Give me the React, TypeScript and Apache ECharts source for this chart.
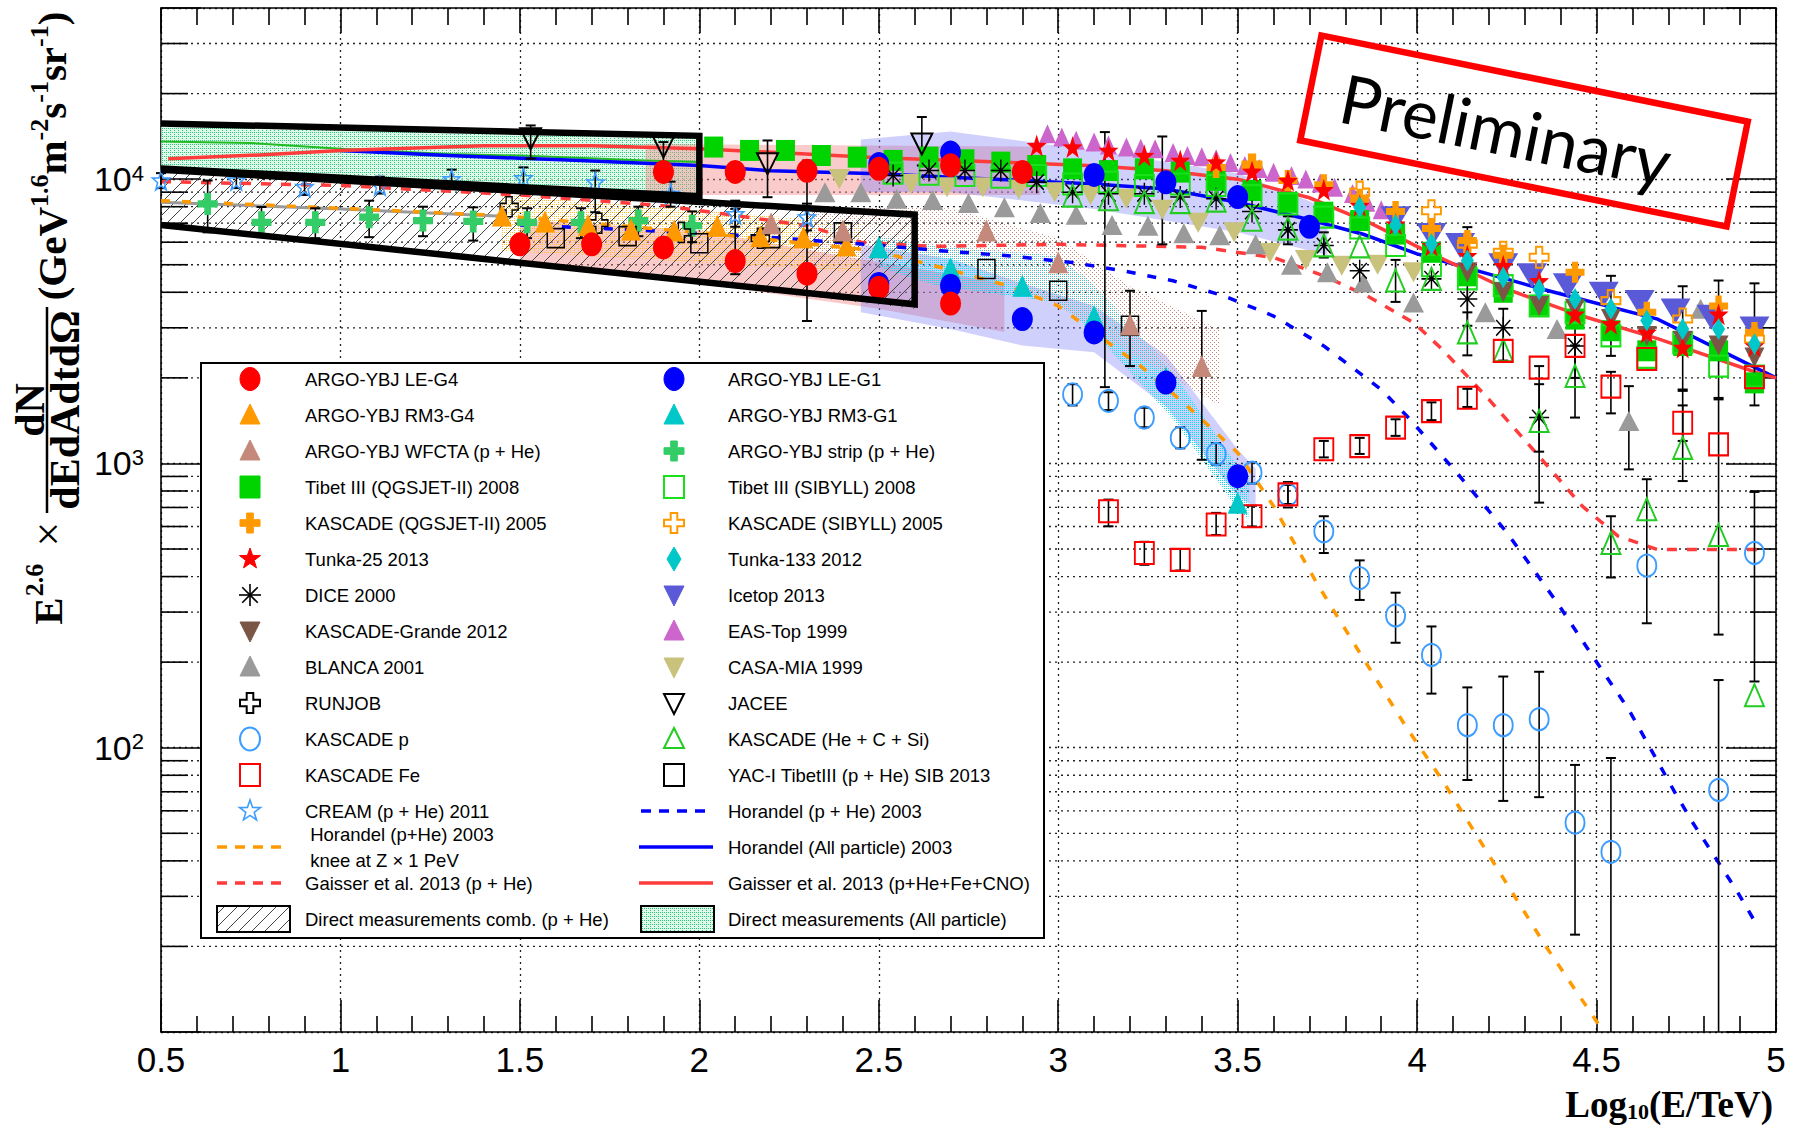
import React, { useEffect, useRef } from "react";
import * as echarts from "echarts";

/* ---------------- axes ---------------- */
const xMin = 0.5;
const xMax = 5;
const xStep = 0.5;
const yMin = 10;
const yMax = 40000;
const yMinorTicks = [20, 30, 40, 50, 60, 70, 80, 90, 200, 300, 400, 500, 600, 700, 800, 900,
  2000, 3000, 4000, 5000, 6000, 7000, 8000, 9000, 20000, 30000];
const yLabelledExponents = [2, 3, 4];

/* ---------------- data: markers [log10(E/TeV), flux] ---------------- */
const leG4 = [[1.5, 5900], [1.7, 5900], [1.9, 5750], [2.1, 5150], [2.3, 4650], [2.5, 4150], [2.7, 3650],
  [1.9, 10600], [2.1, 10600], [2.3, 10700], [2.5, 10870], [2.7, 11200], [2.9, 10600]];
const leG4Err = [[2.1, 4630, 7860], [2.3, 3170, 11630]];
const leG4BandLow = [[1.5, 4950, 7200], [2.0, 4300, 6600], [2.5, 3500, 5100], [2.85, 2900, 4300]];
const leG4BandHigh = [[1.85, 8800, 13300], [2.95, 8800, 13000]];

const leG1 = [[2.5, 11300], [2.7, 12400], [3.1, 10350], [3.3, 9750], [3.5, 8650], [3.7, 6800],
  [2.5, 4280], [2.7, 4220], [2.9, 3220], [3.1, 2890], [3.3, 1925], [3.5, 902]];
const leG1Err = [[3.13, 1855, 14640], [3.29, 5900, 14130]];
const leG1BandHigh = [[2.45, 9000, 13800], [2.7, 9000, 14700], [3.1, 7850, 12600], [3.5, 6500, 10500], [3.75, 5400, 7900]];
const leG1BandLow = [[2.45, 3400, 5900], [2.7, 2970, 5240], [2.9, 2600, 4300], [3.1, 2460, 3580], [3.3, 1590, 2400], [3.5, 765, 1120], [3.55, 700, 960]];

const rm3G4 = [[1.45, 7450], [1.57, 7100], [1.69, 6900], [1.81, 6650], [1.93, 6600], [2.05, 6850], [2.17, 6300], [2.29, 6250], [2.41, 5850]];
const rm3G4Band = [[1.45, 5600, 8800], [2.45, 4700, 7000]];
const rm3G1 = [[2.5, 5760], [2.7, 4860], [2.9, 4220], [3.1, 3300], [3.3, 2000], [3.5, 728]];
const rm3G1Band = [[2.5, 4900, 6300], [2.66, 4220, 5830], [3.0, 3680, 5380], [3.1, 2890, 4220], [3.32, 1430, 2090], [3.5, 690, 975], [3.53, 640, 900]];

const wfcta = [[2.2, 7000], [2.4, 6600], [2.8, 6600], [3.0, 5100], [3.2, 3080], [3.4, 2200]];
const wfctaErr = [[3.2, 2200, 4050], [3.4, 1030, 3440]];
const wfctaBand = [[2.3, 5000, 8000], [2.7, 5300, 7900], [3.0, 3600, 6200], [3.2, 2450, 4200], [3.45, 1600, 2950]];

const strip = [[0.63, 8180], [0.78, 7050], [0.93, 7050], [1.08, 7350], [1.23, 7150], [1.37, 7100], [1.52, 7050], [1.67, 7050], [1.83, 7150], [1.98, 6860]];
const stripErr = [[0.63, 6500, 9890], [0.78, 6250, 7980], [0.93, 6200, 7900], [1.08, 6250, 8400], [1.23, 6300, 8000],
  [1.37, 6080, 7960], [1.52, 6200, 7900], [1.67, 6200, 7900], [1.83, 6300, 8000], [1.98, 6000, 7700]];

const tibetQ = [[2.04, 12970], [2.14, 12620], [2.24, 12620], [2.34, 12110], [2.44, 11950], [2.54, 11640], [2.64, 11950], [2.74, 11700],
  [2.84, 11480], [2.94, 11170], [3.04, 10870], [3.14, 10720], [3.24, 10870], [3.34, 10590], [3.44, 9900], [3.54, 9120], [3.64, 8290],
  [3.74, 7650], [3.84, 7150], [3.94, 6410], [4.04, 5530], [4.14, 4570], [4.24, 4000], [4.34, 3600], [4.44, 3220], [4.54, 2930],
  [4.64, 2490], [4.74, 2600], [4.84, 2490], [4.94, 1920]];
const tibetS = [[2.54, 10500], [2.64, 10400], [2.74, 10300], [2.84, 10160], [2.94, 10300], [3.04, 9620], [3.14, 9760], [3.24, 9500],
  [3.34, 9620], [3.44, 9500], [3.54, 8750], [3.64, 8180], [3.74, 7350], [3.84, 6730], [3.94, 5840], [4.04, 4960], [4.14, 4460],
  [4.24, 4220], [4.34, 3580], [4.44, 3400], [4.54, 2810], [4.64, 2360], [4.74, 2660], [4.84, 2200], [4.94, 2030]];

const kascadeQ = [[3.44, 11000], [3.54, 11200], [3.64, 9900], [3.74, 9560], [3.84, 8500], [3.94, 7700], [4.04, 6700], [4.14, 6080],
  [4.24, 5400], [4.44, 4700], [4.64, 3400], [4.84, 3580], [4.94, 2890]];
const kascadeS = [[3.54, 11200], [3.84, 9000], [4.04, 7740], [4.14, 5910], [4.24, 5530], [4.34, 5310], [4.54, 3740], [4.74, 3220], [4.94, 2740]];

const tunka25 = [[2.94, 13130], [3.04, 12970], [3.14, 12620], [3.24, 12110], [3.34, 11640], [3.44, 11480], [3.54, 10650], [3.64, 9890],
  [3.74, 9180], [3.84, 8070], [3.94, 6950], [4.04, 5840], [4.14, 5380], [4.24, 4960], [4.34, 4390], [4.44, 3350], [4.54, 3100],
  [4.64, 2890], [4.74, 2560], [4.84, 3350], [4.94, 2590]];
const tunka133 = [[3.84, 7960], [3.94, 6900], [4.04, 5910], [4.14, 5170], [4.24, 4520], [4.34, 4100], [4.44, 3790], [4.54, 3500],
  [4.64, 3180], [4.74, 2970], [4.84, 2970], [4.94, 2630]];

const dice = [[2.54, 10300], [2.64, 10720], [2.74, 10720], [2.84, 10720], [2.94, 9760], [3.04, 9000], [3.14, 8880], [3.24, 8880],
  [3.34, 8650], [3.44, 8530], [3.54, 7700], [3.64, 6630], [3.74, 5840], [3.84, 4760], [4.04, 4460], [4.14, 3790], [4.24, 3000],
  [4.34, 1450], [4.44, 2590]];
const diceErr = [[3.64, 5900, 7400], [3.74, 5300, 6500], [4.14, 3050, 6780], [4.24, 2300, 3500], [4.34, 1100, 1900], [4.44, 2000, 3300]];

const grande = [[4.14, 4700], [4.24, 4000], [4.34, 3580], [4.44, 3500], [4.54, 3220], [4.64, 2810], [4.74, 2700], [4.84, 2600], [4.94, 2360]];
const grandeErr = [[4.54, 2390, 4570], [4.74, 1800, 4200], [4.84, 1700, 4400], [4.94, 1600, 4300]];

const blanca = [[2.35, 9000], [2.45, 9000], [2.55, 8530], [2.65, 8450], [2.75, 8250], [2.85, 7960], [2.95, 7600], [3.05, 7500],
  [3.15, 6900], [3.25, 6860], [3.35, 6450], [3.45, 6350], [3.55, 5900], [3.65, 5000], [3.75, 4700], [3.85, 4330], [3.99, 3680],
  [4.19, 3400], [4.39, 2970], [4.59, 1410], [4.79, 3500]];
const blancaErr = [[4.59, 953, 1870]];

const icetop = [[3.94, 7250], [4.04, 6330], [4.12, 5840], [4.24, 4960], [4.32, 4570], [4.42, 4220], [4.52, 3940], [4.62, 3680],
  [4.72, 3440], [4.82, 3270], [4.94, 2970]];
const easTop = [[2.97, 14450], [3.01, 14070], [3.05, 13700], [3.10, 13500], [3.14, 13200], [3.19, 12970], [3.23, 12850], [3.27, 12790],
  [3.32, 12400], [3.36, 12110], [3.40, 12000], [3.44, 11800], [3.48, 11450], [3.52, 11170], [3.56, 10900], [3.60, 10580],
  [3.65, 10300], [3.69, 10020], [3.73, 9700], [3.77, 9370], [3.82, 8900], [3.86, 8290], [3.90, 7800], [3.94, 7350]];
const casaMia = [[2.39, 10020], [2.59, 9620], [2.69, 9370], [2.79, 9370], [2.89, 9200], [2.99, 9000], [3.09, 8800], [3.19, 8530],
  [3.29, 7800], [3.39, 7030], [3.49, 6500], [3.59, 5500], [3.69, 5200], [3.79, 4960], [3.89, 5000], [3.99, 4700]];

const jacee = [[1.53, 13870], [1.9, 12970], [2.19, 11320], [2.62, 13300]];
const jaceeErr = [[1.53, 11800, 15450], [1.9, 9900, 13500], [2.19, 8640, 13680], [2.62, 11170, 16540]];
const runjob = [[1.47, 8000], [1.72, 7000], [1.95, 6500], [2.17, 6200]];
const yac = [[1.6, 6200], [1.8, 6300], [2.0, 5950], [2.2, 6200], [2.4, 6500], [2.8, 4830], [3.0, 4050], [3.2, 3050]];

const kascadeP = [[3.04, 1750], [3.14, 1660], [3.24, 1450], [3.34, 1230], [3.44, 1080], [3.54, 927], [3.64, 776], [3.74, 577],
  [3.84, 395], [3.94, 292], [4.04, 212], [4.14, 120], [4.24, 120], [4.34, 126], [4.44, 54.5], [4.54, 43], [4.64, 437], [4.84, 71], [4.94, 484]];
const kascadePErr = [[3.04, 1600, 1900], [3.14, 1540, 1780], [3.24, 1340, 1570], [3.34, 1130, 1340], [3.44, 990, 1180], [3.54, 850, 1010],
  [3.64, 700, 860], [3.74, 484, 652], [3.84, 331, 456], [3.94, 234, 351], [4.04, 155, 267], [4.14, 77, 163], [4.24, 65, 178],
  [4.34, 67, 185], [4.44, 22, 87], [4.54, 5, 92], [4.64, 274, 880], [4.84, 5, 173], [4.94, 171, 794]];
const kascadeFe = [[3.14, 679], [3.24, 484], [3.34, 458], [3.44, 610], [3.54, 652], [3.64, 778], [3.74, 1122], [3.84, 1151], [3.94, 1337],
  [4.04, 1528], [4.14, 1703], [4.24, 2490], [4.34, 2173], [4.44, 2590], [4.54, 1862], [4.64, 2330], [4.74, 1390], [4.84, 1167], [4.94, 2010]];
const kascadeFeErr = [[3.14, 601, 746], [3.24, 440, 530], [3.34, 420, 500], [3.44, 560, 670], [3.54, 600, 710], [3.64, 720, 840],
  [3.74, 1050, 1200], [3.84, 1080, 1230], [3.94, 1250, 1430], [4.04, 1420, 1640], [4.14, 1580, 1830], [4.54, 1500, 2100], [4.74, 1200, 1600]];
const heCSi = [[3.04, 8750], [3.14, 8500], [3.24, 8300], [3.34, 8300], [3.44, 8400], [3.54, 7200], [3.64, 6700], [3.74, 5850], [3.84, 5800],
  [3.94, 4400], [4.04, 4460], [4.14, 2890], [4.24, 2500], [4.34, 1410], [4.44, 2030], [4.54, 525], [4.64, 690], [4.74, 1135], [4.84, 560], [4.94, 153]];
const heCSiErr = [[3.94, 3700, 5200], [4.14, 2400, 3400], [4.34, 728, 2200], [4.44, 1450, 2600], [4.54, 397, 652], [4.74, 867, 1820], [4.84, 250, 1680]];

const cream = [[0.5, 9900], [0.71, 9900], [0.9, 9400], [1.11, 9500], [1.31, 10000], [1.51, 10100], [1.71, 9750], [1.92, 8880], [2.1, 7540], [2.3, 7350]];
const creamErr = [[0.5, 9300, 10500], [0.71, 9300, 10500], [0.9, 8800, 10000], [1.11, 8900, 10200], [1.31, 9300, 10800],
  [1.51, 9300, 11000], [1.71, 7650, 10720], [1.92, 8000, 9800], [2.1, 6800, 8400], [2.3, 6600, 8200]];

/* ---------------- data: model curves ---------------- */
const gaisserAll = [[0.52, 11800], [0.8, 12200], [1.0, 12600], [1.4, 13100], [1.7, 13100], [2.0, 12800], [2.5, 11900], [2.7, 11650],
  [3.1, 11150], [3.3, 10700], [3.5, 10000], [3.7, 8600], [3.87, 7000], [4.03, 5550], [4.25, 4100], [4.46, 3300], [4.67, 2750], [4.96, 2060], [5.0, 2000]];
const horandelAll = [[1.0, 12600], [1.3, 12100], [1.65, 11650], [2.0, 11170], [2.2, 10700], [2.5, 10450], [2.7, 10160], [3.1, 9620],
  [3.3, 9240], [3.5, 8290], [3.7, 7200], [3.85, 6400], [4.0, 5460], [4.35, 4100], [4.67, 3220], [5.0, 2000]];
const gaisserPHe = [[0.5, 9800], [1.0, 9500], [1.5, 8800], [1.9, 8070], [2.1, 7450], [2.3, 6860], [2.45, 6000], [2.65, 5800], [3.0, 5900],
  [3.4, 5760], [3.6, 5300], [3.74, 4570], [3.86, 3890], [3.99, 3130], [4.07, 2520], [4.2, 1680], [4.33, 1095], [4.46, 708], [4.56, 555], [4.67, 498], [4.95, 498]];
const horandelPHe = [[1.5, 6900], [1.76, 6680], [2.14, 6320], [2.51, 5840], [2.67, 5600], [2.86, 5380], [3.04, 5090], [3.18, 4760],
  [3.32, 4390], [3.46, 3890], [3.6, 3300], [3.74, 2590], [3.9, 1820], [3.98, 1430], [4.11, 930], [4.25, 572], [4.39, 324], [4.49, 209],
  [4.59, 136], [4.72, 69], [4.77, 54], [4.89, 31.5], [4.95, 23.4]];
const horandelKnee = [[0.5, 8400], [1.0, 7900], [1.44, 7450], [2.0, 6500], [2.49, 5600], [2.67, 4900], [2.86, 4220], [3.0, 3580], [3.1, 2890],
  [3.23, 2200], [3.36, 1590], [3.5, 1090], [3.6, 708], [3.72, 380], [3.84, 216], [3.97, 118], [4.07, 77], [4.21, 40], [4.36, 19.9], [4.52, 10]];
const directAllLine = [[0.5, 13570], [0.75, 13400], [1.0, 12790], [1.3, 12270], [1.5, 12100], [1.85, 11640], [2.0, 11480]];
const directPHeLine = [[0.5, 8300], [1.0, 7850], [1.45, 7400]];
const directAllBand = [[0.5, 11000, 15300], [2.0, 8800, 14200]];
const directPHeBand = [[0.5, 7000, 10600], [2.6, 3500, 7500]];
const upperBox = [[0.5, 15700], [2.0, 14200], [2.0, 8700], [0.5, 10900]];
const lowerBox = [[0.5, 10800], [2.6, 7500], [2.6, 3630], [0.5, 6900]];

/* ---------------- styles ---------------- */
const COL = {
  red: "#ff0000", orange: "#ff9900", rosy: "#c4897b", green: "#00d400", greenOpen: "#19e019", black: "#000000",
  brown: "#7b5646", gray: "#9a9a9a", lightBlue: "#3c9cff", blue: "#0000ff", cyan: "#00c8c8", stripGreen: "#33cc66",
  slate: "#5a5ad8", orchid: "#cc66cc", khaki: "#c9c27c", heGreen: "#22cc22", lineRed: "#ff3b3b",
};
const SYM = {
  plus: "path://M-3,-9H3V-3H9V3H3V9H-3V3H-9V-3H-3Z",
  star: "path://M0,-10L2.35,-3.24L9.51,-3.09L3.8,1.24L5.88,8.09L0,4L-5.88,8.09L-3.8,1.24L-9.51,-3.09L-2.35,-3.24Z",
  aster: "path://M0,-10L0,10M-10,0L10,0M-7.07,-7.07L7.07,7.07M-7.07,7.07L7.07,-7.07",
};
const SANS = '"Liberation Sans", Arial, Helvetica, sans-serif';
const SERIF = '"Liberation Serif", "Times New Roman", serif';

const legendLeft = [
  { label: "ARGO-YBJ LE-G4", kind: "circle", color: COL.red },
  { label: "ARGO-YBJ RM3-G4", kind: "tri", color: COL.orange },
  { label: "ARGO-YBJ WFCTA (p + He)", kind: "tri", color: COL.rosy },
  { label: "Tibet III (QGSJET-II) 2008", kind: "rect", color: COL.green },
  { label: "KASCADE (QGSJET-II) 2005", kind: "plus", color: COL.orange },
  { label: "Tunka-25 2013", kind: "star", color: COL.red },
  { label: "DICE 2000", kind: "aster", color: COL.black },
  { label: "KASCADE-Grande 2012", kind: "dtri", color: COL.brown },
  { label: "BLANCA 2001", kind: "tri", color: COL.gray },
  { label: "RUNJOB", kind: "oplus", color: COL.black },
  { label: "KASCADE p", kind: "ocircle", color: COL.lightBlue },
  { label: "KASCADE Fe", kind: "orect", color: COL.red },
  { label: "CREAM (p + He) 2011", kind: "ostar", color: COL.lightBlue },
  { label: " Horandel (p+He) 2003\n knee at Z \u00d7 1 PeV", kind: "dash", color: COL.orange },
  { label: "Gaisser et al. 2013 (p + He)", kind: "dash", color: COL.lineRed },
  { label: "Direct measurements comb. (p + He)", kind: "hatch", color: COL.black },
];
const legendRight = [
  { label: "ARGO-YBJ LE-G1", kind: "circle", color: COL.blue },
  { label: "ARGO-YBJ RM3-G1", kind: "tri", color: COL.cyan },
  { label: "ARGO-YBJ strip (p + He)", kind: "plus", color: COL.stripGreen },
  { label: "Tibet III (SIBYLL) 2008", kind: "orect", color: COL.greenOpen },
  { label: "KASCADE (SIBYLL) 2005", kind: "oplus", color: COL.orange },
  { label: "Tunka-133 2012", kind: "diamond", color: COL.cyan },
  { label: "Icetop 2013", kind: "dtri", color: COL.slate },
  { label: "EAS-Top 1999", kind: "tri", color: COL.orchid },
  { label: "CASA-MIA 1999", kind: "dtri", color: COL.khaki },
  { label: "JACEE", kind: "odtri", color: COL.black },
  { label: "KASCADE (He + C + Si)", kind: "otri", color: COL.heGreen },
  { label: "YAC-I TibetIII (p + He) SIB 2013", kind: "orect", color: COL.black },
  { label: "Horandel (p + He) 2003", kind: "dash", color: COL.blue },
  { label: "Horandel (All particle) 2003", kind: "solid", color: COL.blue },
  { label: "Gaisser et al. 2013 (p+He+Fe+CNO)", kind: "solid", color: COL.lineRed },
  { label: "Direct measurements (All particle)", kind: "dots", color: COL.black },
];

/* ---------------- patterns ---------------- */
function dotPattern(color: string, size: number, dots: number[][], bg?: string) {
  const c = document.createElement("canvas");
  c.width = size; c.height = size;
  const g = c.getContext("2d")!;
  if (bg) { g.fillStyle = bg; g.fillRect(0, 0, size, size); }
  g.fillStyle = color;
  dots.forEach(([x, y]) => g.fillRect(x, y, 1, 1));
  return { image: c, repeat: "repeat", imageWidth: size, imageHeight: size };
}
function hatchPattern() {
  const s = 13;
  const c = document.createElement("canvas");
  c.width = s; c.height = s;
  const g = c.getContext("2d")!;
  g.strokeStyle = "#444"; g.lineWidth = 1;
  g.beginPath();
  g.moveTo(0, s); g.lineTo(s, 0);
  g.moveTo(-2, 2); g.lineTo(2, -2);
  g.moveTo(s - 2, s + 2); g.lineTo(s + 2, s - 2);
  g.stroke();
  return { image: c, repeat: "repeat", imageWidth: s, imageHeight: s };
}

/* ---------------- series helpers ---------------- */
function scat(name: string, data: any[], symbol: string, color: string, size: any, o: any = {}) {
  return {
    type: "scatter", name, data, symbol, symbolSize: size, symbolRotate: o.rot || 0, z: o.z || 6, silent: true,
    clip: false,
    itemStyle: o.open
      ? { color: "rgba(0,0,0,0)", borderColor: color, borderWidth: o.bw || 2, opacity: 1 }
      : { color, borderColor: color, borderWidth: 0, opacity: 1 },
  };
}
function errs(name: string, data: any[], color = "#000") {
  return {
    type: "custom", name, data, z: 5, silent: true, encode: { x: 0, y: [1, 2] },
    renderItem: (params: any, api: any) => {
      const x = api.value(0), lo = api.value(1), hi = api.value(2);
      const a = api.coord([x, Math.max(lo, yMin)]);
      const b = api.coord([x, Math.min(hi, yMax)]);
      const ch: any[] = [{ type: "line", shape: { x1: a[0], y1: a[1], x2: b[0], y2: b[1] }, style: { stroke: color, lineWidth: 1.6 } }];
      ch.push({ type: "line", shape: { x1: b[0] - 5, y1: b[1], x2: b[0] + 5, y2: b[1] }, style: { stroke: color, lineWidth: 2 } });
      if (lo >= yMin) ch.push({ type: "line", shape: { x1: a[0] - 5, y1: a[1], x2: a[0] + 5, y2: a[1] }, style: { stroke: color, lineWidth: 2 } });
      return { type: "group", children: ch };
    },
  };
}
function band(name: string, pts: any[], fill: any, z = 2) {
  return {
    type: "custom", name, data: pts, z, silent: true, encode: { x: 0, y: [1, 2] },
    renderItem: (params: any, api: any) => {
      if (params.dataIndex !== 0) return null;
      const up = pts.map((p) => api.coord([p[0], p[2]]));
      const dn = pts.map((p) => api.coord([p[0], p[1]])).reverse();
      return { type: "polygon", shape: { points: up.concat(dn) }, style: { fill, stroke: "none" } };
    },
  };
}
function curve(name: string, data: any[], color: string, width: number, dash: any, z = 4) {
  return {
    type: "line", name, data, z, silent: true, symbol: "none", showSymbol: false, clip: true,
    lineStyle: { color, width, type: dash || "solid", join: "miter", cap: "butt" },
  };
}
function minorGrid() {
  return {
    type: "custom", name: "minorGrid", data: [[xMin, yMin]], z: 1, silent: true,
    renderItem: (params: any, api: any) => {
      const ch: any[] = [];
      yMinorTicks.forEach((v) => {
        const a = api.coord([xMin, v]);
        const b = api.coord([xMax, v]);
        ch.push({ type: "line", shape: { x1: a[0], y1: a[1], x2: b[0], y2: b[1] }, style: { stroke: "#222", lineWidth: 1.3, lineDash: [2, 4] } });
        ch.push({ type: "line", shape: { x1: a[0], y1: a[1], x2: a[0] + 27, y2: a[1] }, style: { stroke: "#000", lineWidth: 1.6 } });
        ch.push({ type: "line", shape: { x1: b[0] - 26, y1: b[1], x2: b[0], y2: b[1] }, style: { stroke: "#000", lineWidth: 1.6 } });
      });
      return { type: "group", children: ch };
    },
  };
}

/* ---------------- legend graphic ---------------- */
const TRI_UP = [[0, -11], [10, 9], [-10, 9]];
const TRI_DN = [[0, 11], [10, -9], [-10, -9]];
const DIAM = [[0, -12], [7, 0], [0, 12], [-7, 0]];
const PLUS = [[-3.3, -10], [3.3, -10], [3.3, -3.3], [10, -3.3], [10, 3.3], [3.3, 3.3], [3.3, 10], [-3.3, 10], [-3.3, 3.3], [-10, 3.3], [-10, -3.3], [-3.3, -3.3]];
const STAR = [[0, -11], [2.6, -3.6], [10.5, -3.4], [4.2, 1.4], [6.5, 8.9], [0, 4.4], [-6.5, 8.9], [-4.2, 1.4], [-10.5, -3.4], [-2.6, -3.6]];

function legendMark(kind: string, color: string, cx: number, cy: number, pats: any): any {
  const F = { fill: color, stroke: color, lineWidth: 1 };
  const O = { fill: "none", stroke: color, lineWidth: 2 };
  const P = (pts: number[][], st: any) => ({ type: "polygon", z: 51, shape: { points: pts.map(([x, y]) => [cx + x, cy + y]) }, style: st });
  switch (kind) {
    case "circle": return { type: "ellipse", z: 51, shape: { cx, cy, rx: 10, ry: 11.5 }, style: F };
    case "ocircle": return { type: "ellipse", z: 51, shape: { cx, cy, rx: 10, ry: 11.5 }, style: O };
    case "tri": return P(TRI_UP, F);
    case "otri": return P(TRI_UP, O);
    case "dtri": return P(TRI_DN, F);
    case "odtri": return P(TRI_DN, O);
    case "rect": return { type: "rect", z: 51, shape: { x: cx - 10, y: cy - 11, width: 20, height: 22 }, style: F };
    case "orect": return { type: "rect", z: 51, shape: { x: cx - 10, y: cy - 11, width: 20, height: 22 }, style: O };
    case "plus": return P(PLUS, F);
    case "oplus": return P(PLUS, O);
    case "star": return P(STAR, F);
    case "ostar": return P(STAR, { fill: "none", stroke: color, lineWidth: 1.6 });
    case "diamond": return P(DIAM, F);
    case "aster": return {
      type: "group", z: 51, children: [[0, -11, 0, 11], [-11, 0, 11, 0], [-7.8, -7.8, 7.8, 7.8], [-7.8, 7.8, 7.8, -7.8]].map((l) => ({
        type: "line", z: 51, shape: { x1: cx + l[0], y1: cy + l[1], x2: cx + l[2], y2: cy + l[3] }, style: { stroke: color, lineWidth: 1.6 },
      })),
    };
    case "dash": return { type: "line", z: 51, shape: { x1: cx - 34, y1: cy, x2: cx + 36, y2: cy }, style: { stroke: color, lineWidth: 3.5, lineDash: [10, 8] } };
    case "solid": return { type: "line", z: 51, shape: { x1: cx - 36, y1: cy, x2: cx + 38, y2: cy }, style: { stroke: color, lineWidth: 3.5 } };
    case "hatch": return { type: "rect", z: 51, shape: { x: cx - 34, y: cy - 13, width: 73, height: 26 }, style: { fill: pats.hatch, stroke: "#000", lineWidth: 2 } };
    case "dots": return { type: "rect", z: 51, shape: { x: cx - 34, y: cy - 13, width: 73, height: 26 }, style: { fill: pats.green, stroke: "#000", lineWidth: 2 } };
  }
  return null;
}

function textEl(text: string, x: number, y: number, font: string) {
  return {
    type: "text", x, y, z: 52,
    style: { text, font, fill: "#000", textAlign: "left", textVerticalAlign: "middle", align: "left", verticalAlign: "middle" },
  };
}

function buildLegend(pats: any) {
  const els: any[] = [];
  const box = { x: 201, y: 363, w: 843, h: 575 };
  els.push({ type: "rect", z: 50, shape: { x: box.x, y: box.y, width: box.w, height: box.h }, style: { fill: "#fff", stroke: "#000", lineWidth: 2 } });
  const row0 = 379, dy = 36;
  const cols = [
    { items: legendLeft, sym: 250, txt: 305, line: 250 },
    { items: legendRight, sym: 674, txt: 728, line: 674 },
  ];
  const font = `18.5px ${SANS}`;
  cols.forEach((col) => {
    col.items.forEach((it, i) => {
      const cy = row0 + i * dy;
      const isLine = it.kind === "dash" || it.kind === "solid" || it.kind === "hatch" || it.kind === "dots";
      els.push(legendMark(it.kind, it.color, isLine ? col.line + 1 : col.sym, cy, pats));
      const lines = it.label.split("\n");
      if (lines.length === 1) {
        els.push(textEl(it.label, col.txt, cy, font));
      } else {
        els.push(textEl(lines[0], col.txt, cy - 13, font));
        els.push(textEl(lines[1], col.txt, cy + 13, font));
      }
    });
  });
  return els;
}

function buildTitles() {
  const els: any[] = [];
  const rot = Math.PI / 2;
  const t = (text: string, x: number, y: number, font: string, r = rot) => ({
    type: "text", x, y, rotation: r, z: 52,
    style: { text, font, fill: "#000", textAlign: "center", textVerticalAlign: "middle", align: "center", verticalAlign: "middle" },
  });
  // y-axis title (rotated)
  els.push(t("E", 48, 611, `bold 41px ${SERIF}`));
  els.push(t("2.6", 34, 580, `bold 26px ${SERIF}`));
  els.push(t("\u00d7", 48, 534, `44px ${SERIF}`));
  els.push(t("dN", 30, 410, `bold 42px ${SERIF}`));
  els.push(t("dEdAdtd\u03a9", 65, 410, `bold 42px ${SERIF}`));
  els.push({ type: "line", z: 52, shape: { x1: 47, y1: 307, x2: 47, y2: 513 }, style: { stroke: "#000", lineWidth: 2.5 } });
  els.push({
    type: "text", x: 49, y: 156, rotation: rot, z: 52,
    style: {
      text: "{m|(GeV}{s|1.6}{m|m}{s|-2}{m|s}{s|-1}{m|sr}{s|-1}{m|)}",
      fill: "#000", textAlign: "center", textVerticalAlign: "middle", align: "center", verticalAlign: "middle",
      rich: {
        m: { fontFamily: SERIF, fontWeight: "bold", fontSize: 41, lineHeight: 46, verticalAlign: "bottom", fill: "#000", color: "#000" },
        s: { fontFamily: SERIF, fontWeight: "bold", fontSize: 26, lineHeight: 26, verticalAlign: "top", fill: "#000", color: "#000" },
      },
    },
  });
  // x-axis title
  els.push({
    type: "text", x: 1773, y: 1086, z: 52,
    style: {
      text: "{a|Log}{s|10}{a|(E/TeV)}",
      fill: "#000", textAlign: "right", textVerticalAlign: "top", align: "right", verticalAlign: "top",
      rich: {
        a: { fontFamily: SERIF, fontWeight: "bold", fontSize: 37, lineHeight: 26, verticalAlign: "top", fill: "#000", color: "#000" },
        s: { fontFamily: SERIF, fontWeight: "bold", fontSize: 22, lineHeight: 18, padding: [14, 0, 0, 0], verticalAlign: "top", fill: "#000", color: "#000" },
      },
    },
  });
  // "Preliminary" stamp
  const ang = -0.1997;
  els.push({ type: "rect", x: 1524, y: 131, rotation: ang, z: 60, shape: { x: -217.5, y: -53.5, width: 435, height: 107 }, style: { fill: "none", stroke: "#ff0000", lineWidth: 6.5 } });
  els.push(t("Preliminary", 1506, 129, `68px Lato, "Open Sans", sans-serif`, ang));
  return els;
}

function buildOption() {
  const pats = {
    hatch: hatchPattern(),
    green: dotPattern("#25cc78", 4, [[0, 0], [2, 2], [2, 0]], "rgba(214,247,228,0.75)"),
    cyan: dotPattern("#00e0f5", 2, [[0, 0]]),
    brown: dotPattern("#c08878", 4, [[0, 0], [2, 2]]),
    orange: dotPattern("#ffbb22", 4, [[0, 0], [2, 2], [2, 0]]),
  };
  const axisLineStyle = { color: "#000", width: 1.6 };
  const series: any[] = [
    minorGrid(),
    band("Direct measurements (All particle)", directAllBand, pats.green, 2),
    band("LE-G4 band low", leG4BandLow, "rgba(245,140,140,0.45)", 2),
    band("LE-G4 band high", leG4BandHigh, "rgba(245,140,140,0.45)", 2),
    band("LE-G1 band high", leG1BandHigh, "rgba(110,110,245,0.32)", 2),
    band("LE-G1 band low", leG1BandLow, "rgba(110,110,245,0.32)", 2),
    band("RM3-G4 band", rm3G4Band, pats.orange, 2),
    band("RM3-G1 band", rm3G1Band, pats.cyan, 2),
    band("WFCTA band", wfctaBand, pats.brown, 2),
    band("Direct measurements comb. (p + He)", directPHeBand, pats.hatch, 3),
    curve("Direct all-particle centre", directAllLine, "#22bb22", 2, null, 3),
    curve("Direct p+He centre", directPHeLine, "#9a9a9a", 3, null, 3),
    curve("Gaisser et al. 2013 (p + He)", gaisserPHe, COL.lineRed, 3.5, [10, 10], 4),
    curve("Horandel (p + He) 2003", horandelPHe, COL.blue, 3.5, [9, 12], 4),
    curve("Horandel (p+He) 2003 knee at Z x 1 PeV", horandelKnee, COL.orange, 3.5, [9, 12], 4),
    curve("Horandel (All particle) 2003", horandelAll, COL.blue, 3.5, null, 4),
    curve("Gaisser et al. 2013 (p+He+Fe+CNO)", gaisserAll, COL.lineRed, 3.5, null, 4),
    errs("err LE-G4", leG4Err), errs("err LE-G1", leG1Err), errs("err WFCTA", wfctaErr), errs("err strip", stripErr),
    errs("err DICE", diceErr), errs("err Grande", grandeErr), errs("err BLANCA", blancaErr), errs("err JACEE", jaceeErr),
    errs("err KASCADE p", kascadePErr), errs("err KASCADE Fe", kascadeFeErr), errs("err HeCSi", heCSiErr), errs("err CREAM", creamErr),
    scat("EAS-Top 1999", easTop, "triangle", COL.orchid, [17, 19]),
    scat("CASA-MIA 1999", casaMia, "triangle", COL.khaki, [22, 20], { rot: 180 }),
    scat("BLANCA 2001", blanca, "triangle", COL.gray, [21, 20]),
    scat("Icetop 2013", icetop, "triangle", COL.slate, [30, 25], { rot: 180 }),
    scat("Tibet III (QGSJET-II) 2008", tibetQ, "rect", COL.green, [19, 21]),
    scat("Tibet III (SIBYLL) 2008", tibetS, "rect", COL.greenOpen, [19, 21], { open: true }),
    scat("KASCADE-Grande 2012", grande, "triangle", COL.brown, [20, 20], { rot: 180 }),
    scat("KASCADE (QGSJET-II) 2005", kascadeQ, SYM.plus, COL.orange, [19, 21]),
    scat("KASCADE (SIBYLL) 2005", kascadeS, SYM.plus, COL.orange, [19, 21], { open: true }),
    scat("Tunka-25 2013", tunka25, SYM.star, COL.red, [20, 22]),
    scat("Tunka-133 2012", tunka133, "diamond", COL.cyan, [13, 22]),
    scat("DICE 2000", dice, SYM.aster, COL.black, [20, 22], { open: true, bw: 1.5 }),
    scat("KASCADE (He + C + Si)", heCSi, "triangle", COL.heGreen, [19, 22], { open: true }),
    scat("KASCADE p", kascadeP, "circle", COL.lightBlue, [19, 22], { open: true }),
    scat("KASCADE Fe", kascadeFe, "rect", COL.red, [19, 22], { open: true }),
    scat("ARGO-YBJ strip (p + He)", strip, SYM.plus, COL.stripGreen, [20, 22]),
    scat("CREAM (p + He) 2011", cream, SYM.star, COL.lightBlue, [17, 19], { open: true, bw: 1.6 }),
    scat("RUNJOB", runjob, SYM.plus, COL.black, [18, 20], { open: true, bw: 1.5 }),
    scat("YAC-I TibetIII (p + He) SIB 2013", yac, "rect", COL.black, [17, 19], { open: true, bw: 1.6 }),
    scat("JACEE", jacee, "triangle", COL.black, [21, 21], { open: true, rot: 180 }),
    scat("ARGO-YBJ RM3-G4", rm3G4, "triangle", COL.orange, [20, 22]),
    scat("ARGO-YBJ WFCTA (p + He)", wfcta, "triangle", COL.rosy, [20, 22]),
    scat("ARGO-YBJ RM3-G1", rm3G1, "triangle", COL.cyan, [20, 22]),
    scat("ARGO-YBJ LE-G1", leG1, "circle", COL.blue, [21, 24], { z: 7 }),
    scat("ARGO-YBJ LE-G4", leG4, "circle", COL.red, [21, 24], { z: 7 }),
    curve("upper box", upperBox, "#000", 6.5, null, 9),
    curve("lower box", lowerBox, "#000", 6.5, null, 9),
  ];

  return {
    animation: false,
    backgroundColor: "#ffffff",
    textStyle: { fontFamily: SANS },
    grid: { left: 161, right: 26, top: 8, bottom: 95, containLabel: false, outerBoundsMode: "none" },
    xAxis: [
      {
        type: "value", position: "bottom", min: xMin, max: xMax, interval: xStep,
        axisLine: { show: true, onZero: false, lineStyle: axisLineStyle },
        axisTick: { show: true, inside: true, length: 32, lineStyle: { color: "#000", width: 1.6 } },
        minorTick: { show: true, splitNumber: 5, length: 16, lineStyle: { color: "#000", width: 1.6 } },
        axisLabel: { show: true, margin: 10, color: "#000", fontSize: 35, fontFamily: SANS, formatter: (v: number) => String(+v.toFixed(2)) },
        splitLine: { show: true, lineStyle: { color: "#222", width: 1.3, type: [2, 4] } },
        minorSplitLine: { show: false },
      },
      {
        type: "value", position: "top", min: xMin, max: xMax, interval: xStep,
        axisLine: { show: true, onZero: false, lineStyle: axisLineStyle },
        axisTick: { show: true, inside: true, length: 25, lineStyle: { color: "#000", width: 1.6 } },
        minorTick: { show: true, splitNumber: 5, length: 17, lineStyle: { color: "#000", width: 1.6 } },
        axisLabel: { show: false },
        splitLine: { show: false },
      },
    ],
    yAxis: [
      {
        type: "log", logBase: 10, position: "left", min: yMin, max: yMax,
        axisLine: { show: true, onZero: false, lineStyle: axisLineStyle },
        axisTick: { show: true, inside: true, length: 40, lineStyle: { color: "#000", width: 1.6 } },
        axisLabel: {
          show: true, margin: 17, color: "#000",
          formatter: (v: number) => {
            const e = Math.log10(v);
            const r = Math.round(e);
            if (Math.abs(e - r) > 1e-6 || yLabelledExponents.indexOf(r) < 0) return "";
            return `{b|10}{s|${r}}`;
          },
          rich: {
            b: { fontSize: 34, fontFamily: SANS, color: "#000", lineHeight: 34 },
            s: { fontSize: 22, fontFamily: SANS, color: "#000", lineHeight: 16, verticalAlign: "top" },
          },
        },
        splitLine: { show: true, lineStyle: { color: "#222", width: 1.3, type: [2, 4] } },
      },
      {
        type: "log", logBase: 10, position: "right", min: yMin, max: yMax,
        axisLine: { show: true, onZero: false, lineStyle: axisLineStyle },
        axisTick: { show: true, inside: true, length: 50, lineStyle: { color: "#000", width: 1.6 } },
        axisLabel: { show: false },
        splitLine: { show: false },
      },
    ],
    series,
    graphic: { elements: [...buildLegend(pats), ...buildTitles()] },
  };
}

export default function App() {
  const ref = useRef<HTMLDivElement>(null);
  useEffect(() => {
    document.body.style.margin = "0";
    document.body.style.overflow = "hidden";
    const chart = echarts.init(ref.current as HTMLDivElement, null, { renderer: "svg" });
    chart.setOption(buildOption() as any);
    return () => chart.dispose();
  }, []);
  return <div ref={ref} style={{ width: 1802, height: 1127, background: "#fff" }} />;
}
